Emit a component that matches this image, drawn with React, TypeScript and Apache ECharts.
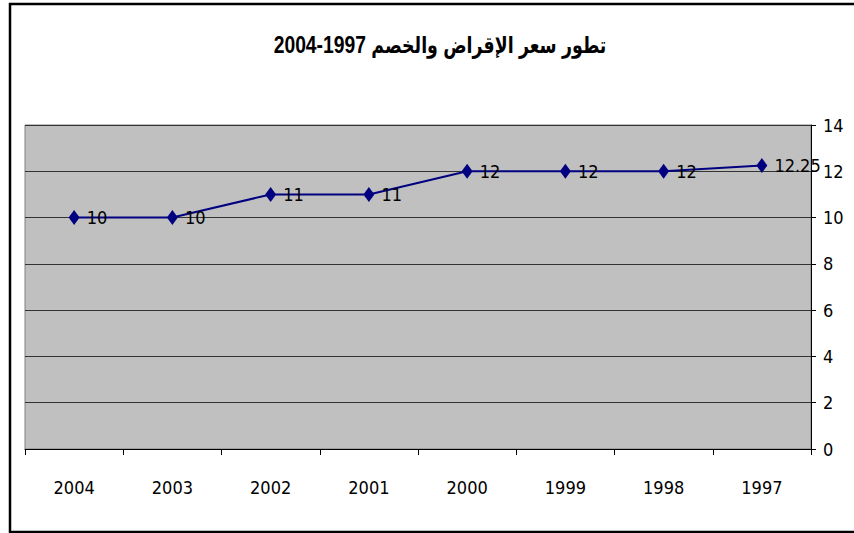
import React, { useEffect, useRef } from "react";
import * as echarts from "echarts";

const titleText = "تطور سعر الإقراض والخصم 1997-2004";
const years = ["2004", "2003", "2002", "2001", "2000", "1999", "1998", "1997"];
const rates = [10, 10, 11, 11, 12, 12, 12, 12.25];
const yMin = 0;
const yMax = 14;
const yStep = 2;

const FONT = "'Liberation Sans Narrow', 'Arial Narrow', 'DejaVu Sans Condensed', 'Liberation Sans', Arial, sans-serif";

export default function App() {
  const ref = useRef<HTMLDivElement>(null);
  useEffect(() => {
    document.body.style.margin = "0";
    const chart = echarts.init(ref.current!, null, { renderer: "svg" });
    chart.setOption({
      animation: false,
      backgroundColor: "#ffffff",
      graphic: [
        {
          type: "polyline",
          shape: { points: [[870, 4], [10, 4], [10, 532], [870, 532]] },
          style: { stroke: "#000000", lineWidth: 2.5, fill: null },
          silent: true,
        },
        {
          type: "text",
          x: 440,
          y: 45,
          scaleX: 0.84,
          scaleY: 1,
          silent: true,
          style: {
            text: titleText,
            font: "bold 23px 'Liberation Sans', 'DejaVu Sans Condensed', Arial, sans-serif",
            fill: "#000000",
            align: "center",
            verticalAlign: "middle",
          },
        },
      ],
      grid: {
        left: 25,
        right: 43,
        top: 125,
        bottom: 84,
        show: true,
        backgroundColor: "#C0C0C0",
        borderColor: "#808080",
        borderWidth: 1,
      },
      xAxis: {
        type: "category",
        data: years,
        boundaryGap: true,
        axisLine: { lineStyle: { color: "#000000", width: 1 } },
        axisTick: { show: true, length: 6, inside: false, lineStyle: { color: "#000000" } },
        axisLabel: {
          margin: 29,
          fontSize: 18,
          fontFamily: FONT,
          color: "#000000",
        },
        splitLine: { show: false },
      },
      yAxis: {
        type: "value",
        position: "right",
        min: yMin,
        max: yMax,
        interval: yStep,
        axisLine: { show: true, lineStyle: { color: "#000000", width: 1 } },
        axisTick: { show: true, length: 5, inside: false, lineStyle: { color: "#000000" } },
        axisLabel: {
          margin: 12,
          fontSize: 18,
          fontFamily: FONT,
          color: "#000000",
        },
        splitLine: { show: true, lineStyle: { color: "#333333", width: 1 } },
      },
      series: [
        {
          type: "line",
          data: rates,
          symbol: "diamond",
          symbolSize: [11, 15],
          itemStyle: { color: "#000080" },
          lineStyle: { color: "#000080", width: 2 },
          label: {
            show: true,
            position: "right",
            distance: 7,
            fontSize: 18,
            fontFamily: FONT,
            color: "#000000",
          },
        },
      ],
    });
    return () => chart.dispose();
  }, []);
  return (
    <div
      ref={ref}
      style={{ position: "absolute", left: 0, top: 0, width: 854, height: 533 }}
    />
  );
}
